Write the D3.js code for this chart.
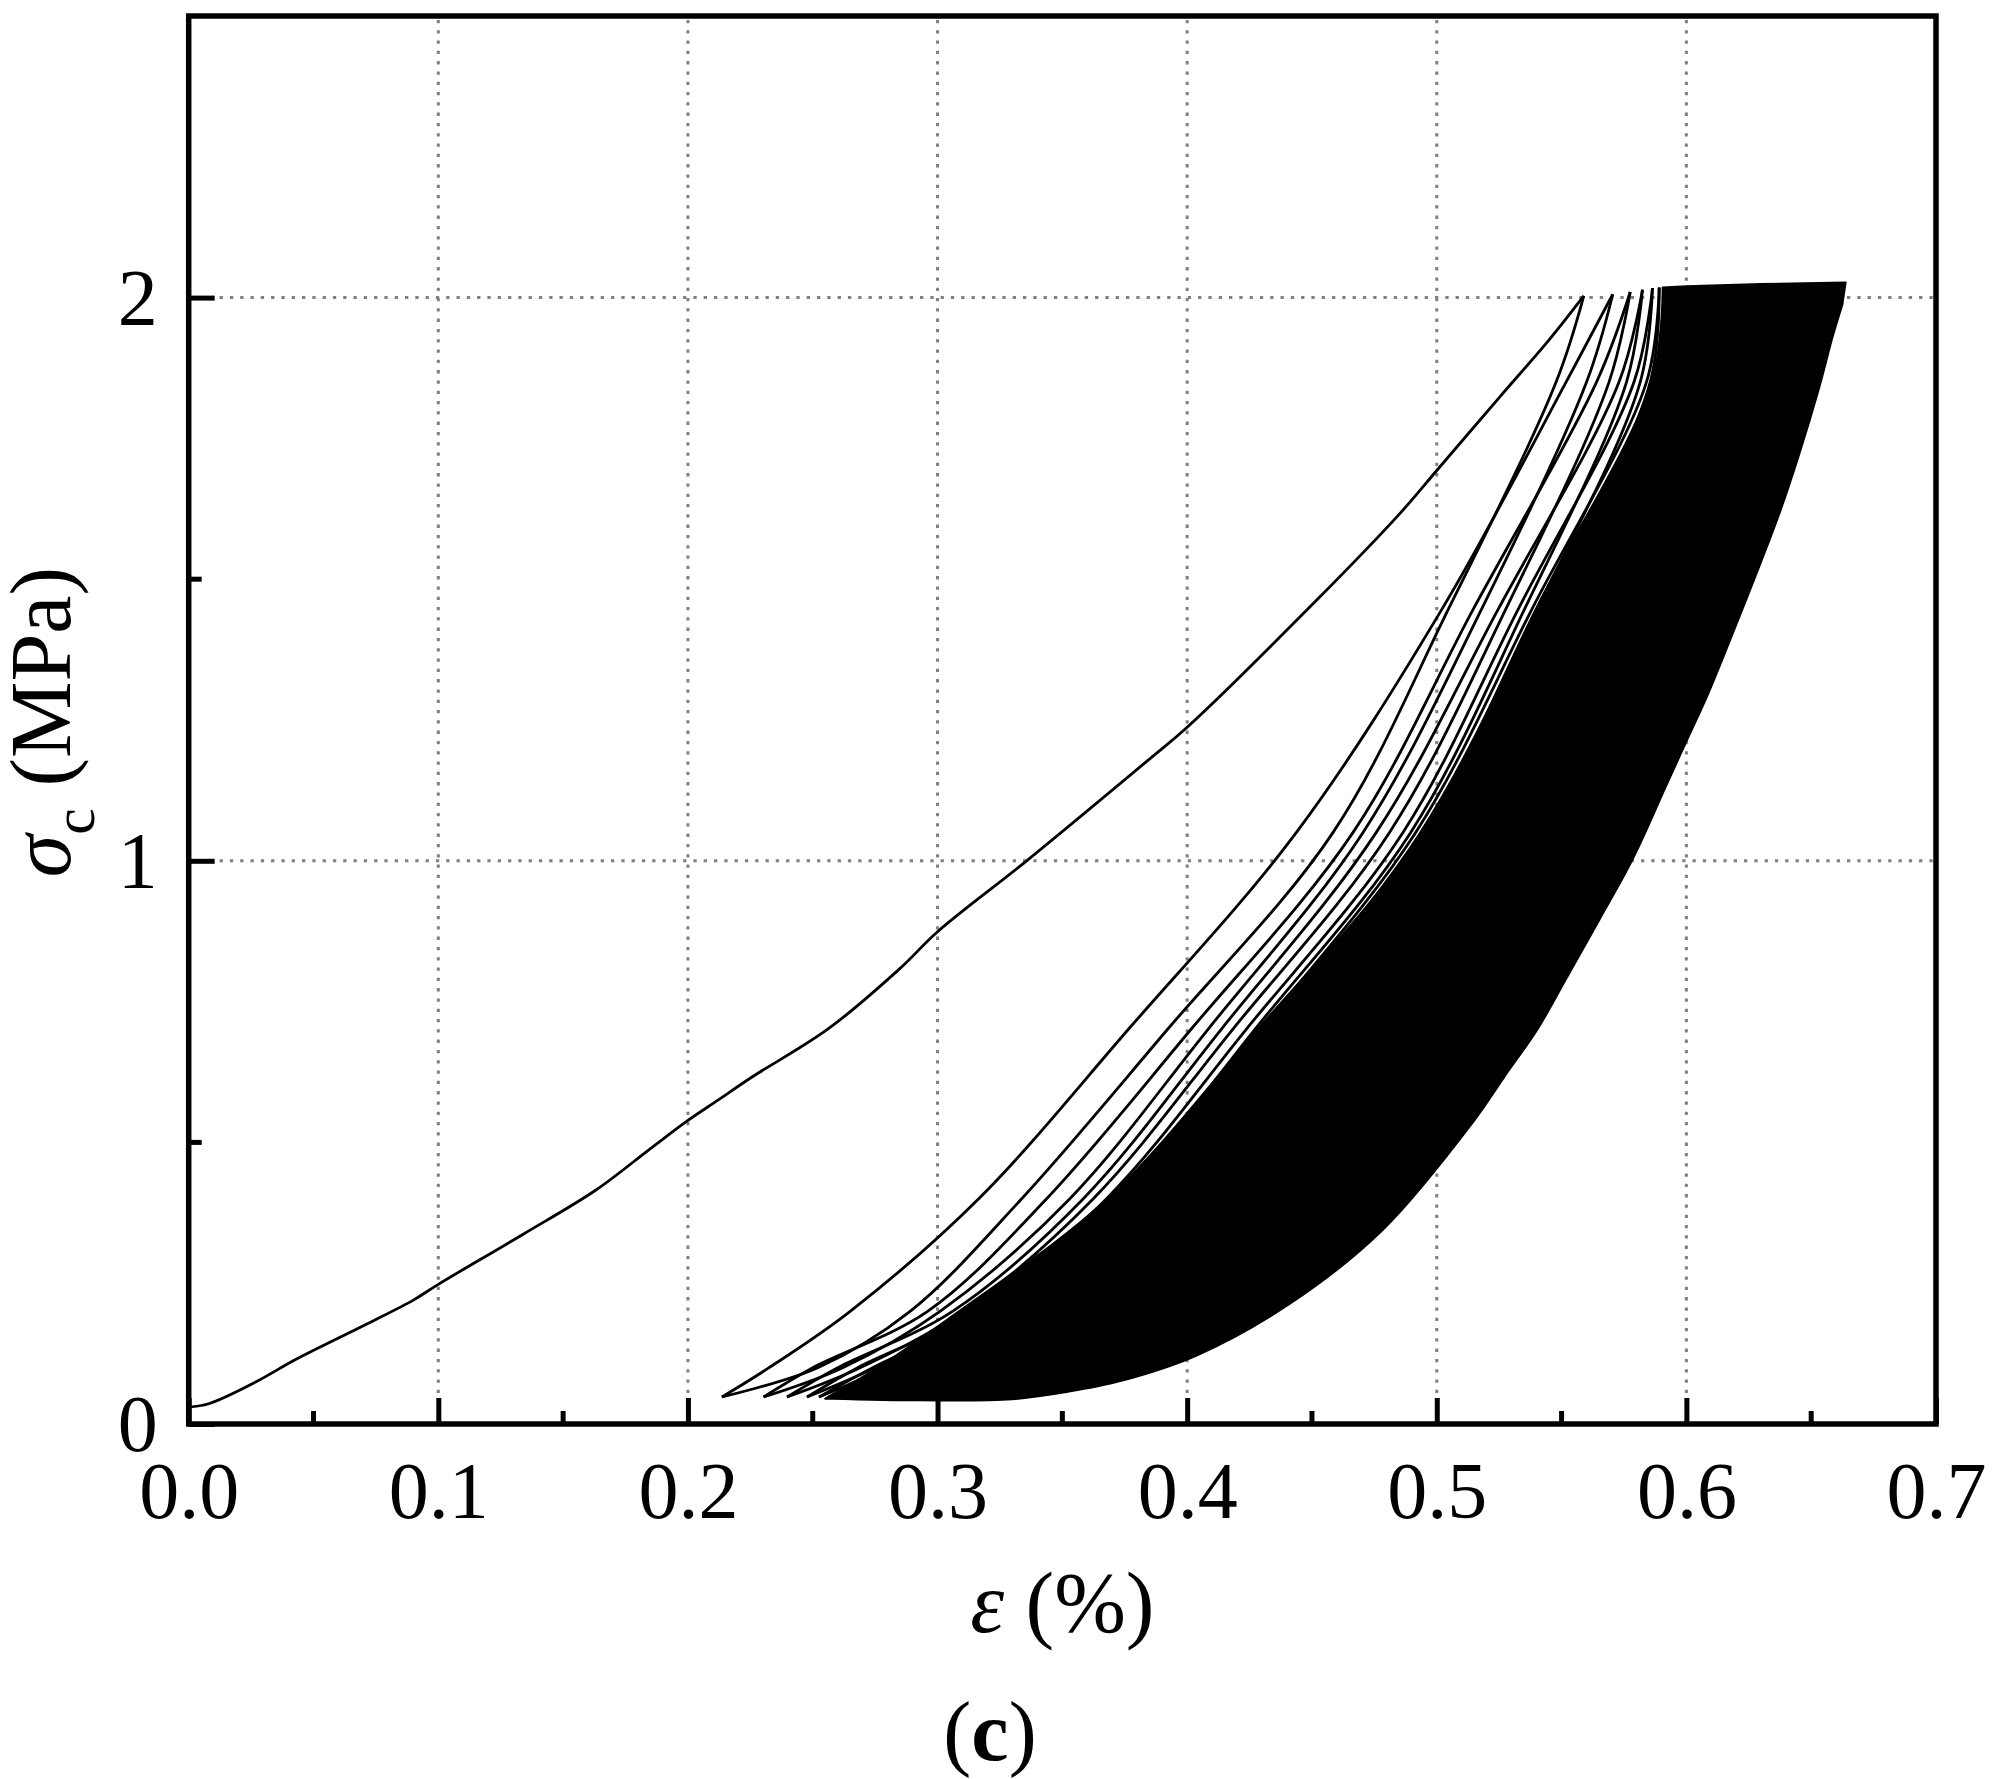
<!DOCTYPE html>
<html>
<head>
<meta charset="utf-8">
<script src="https://d3js.org/d3.v7.min.js"></script>
<style>
  body { margin: 0; background: #fff; }
  text { font-family: "Liberation Serif", "Times New Roman", serif; fill: #000; }
</style>
</head>
<body>
<script>
// axis ticks
const xTicks = [0, 0.1, 0.2, 0.3, 0.4, 0.5, 0.6, 0.7];
const xMinor = [0.05, 0.15, 0.25, 0.35, 0.45, 0.55, 0.65];
const yTicks = [0, 1, 2];
const yMinor = [0.5, 1.5];
const xGrid = [0.1, 0.2, 0.3, 0.4, 0.5, 0.6];
const yGrid = [1, 2];

// first loading curve, [strain %, stress MPa]
const firstLoading = [
  [0, 0.03], [0.008, 0.036], [0.027, 0.075], [0.043, 0.115], [0.072, 0.179],
  [0.09, 0.22], [0.1, 0.248], [0.134, 0.337], [0.163, 0.415], [0.185, 0.489],
  [0.2, 0.539], [0.212, 0.575], [0.226, 0.617], [0.256, 0.701], [0.285, 0.809],
  [0.3, 0.874], [0.3357, 1.0], [0.385, 1.181], [0.4, 1.237], [0.4517, 1.462],
  [0.4851, 1.616], [0.5, 1.693], [0.5251, 1.823], [0.545, 1.925], [0.5589, 2.003]
];

// separate unloading / reloading branches of the first cycles
const branchLow = 0.048;                                // stress at the valley
const branchStress = [0.1, 0.2, 0.4, 0.7, 1.05, 1.45, 1.85];
const branchStart = [0.2136, 0.2136, 0.2303, 0.2303, 0.2397, 0.2397,
                     0.2477, 0.2477, 0.2525, 0.2525, 0.2565, 0.2565];
const branchPeak = [
  [0.5705, 2.006], [0.5589, 2.003], [0.5775, 2.010], [0.5705, 2.006],
  [0.5824, 2.014], [0.5775, 2.010], [0.5864, 2.017], [0.5824, 2.014],
  [0.5891, 2.018], [0.5864, 2.017], [0.5918, 2.019], [0.5891, 2.018]
];
const branchStrain = [
  [0.2325, 0.2650, 0.3165, 0.3763, 0.4437, 0.5025, 0.5518],
  [0.2520, 0.2890, 0.3337, 0.3920, 0.4584, 0.5050, 0.5478],
  [0.2500, 0.2960, 0.3437, 0.4014, 0.4664, 0.5150, 0.5640],
  [0.2620, 0.3010, 0.3530, 0.4082, 0.4704, 0.5183, 0.5600],
  [0.2600, 0.3060, 0.3584, 0.4135, 0.4757, 0.5250, 0.5730],
  [0.2690, 0.3100, 0.3624, 0.4181, 0.4810, 0.5280, 0.5690],
  [0.2680, 0.3140, 0.3677, 0.4235, 0.4864, 0.5330, 0.5790],
  [0.2750, 0.3170, 0.3717, 0.4270, 0.4895, 0.5355, 0.5760],
  [0.2740, 0.3190, 0.3745, 0.4295, 0.4915, 0.5385, 0.5840],
  [0.2790, 0.3205, 0.3765, 0.4315, 0.4935, 0.5405, 0.5815],
  [0.2780, 0.3220, 0.3780, 0.4330, 0.4950, 0.5425, 0.5875],
  [0.2820, 0.3235, 0.3795, 0.4345, 0.4965, 0.5440, 0.5855]
];

// outline of the dense bundle of later cycles
const denseLeft = [
  [0.255, 0.045], [0.276, 0.10], [0.3085, 0.20], [0.368, 0.40], [0.428, 0.70],
  [0.4944, 1.05], [0.540, 1.45], [0.586, 1.85], [0.5905, 2.018]
];
const denseTop = [[0.600, 2.020], [0.630, 2.024], [0.6638, 2.027]];
const denseRight = [
  [0.6625, 1.988], [0.6585, 1.929], [0.6532, 1.840], [0.6452, 1.722],
  [0.6372, 1.616], [0.6158, 1.373], [0.6078, 1.287], [0.5998, 1.210],
  [0.5918, 1.132], [0.5785, 1.003], [0.5651, 0.895], [0.5518, 0.790],
  [0.5405, 0.702], [0.5270, 0.616], [0.5152, 0.540], [0.4781, 0.3435],
  [0.441, 0.213], [0.404, 0.122], [0.374, 0.077], [0.352, 0.057],
  [0.330, 0.044], [0.293, 0.042], [0.257, 0.045]
];

var width = 1993, height = 1779;
var plotLeft = 188.7, plotRight = 1936, plotTop = 16, plotBottom = 1424;

var svg = d3.select("body").append("svg")
  .attr("width", width)
  .attr("height", height)
  .style("display", "block");

var x = d3.scaleLinear().domain([0, 0.7]).range([plotLeft, plotRight]);
var y = d3.scaleLinear().domain([0, 2.5]).range([plotBottom, plotTop]);

// grid
svg.append("g").selectAll("line").data(xGrid).enter().append("line")
  .attr("x1", d => x(d)).attr("x2", d => x(d))
  .attr("y1", plotBottom).attr("y2", plotTop)
  .attr("stroke", "#808080").attr("stroke-width", 3)
  .attr("stroke-dasharray", "3.3,7");
svg.append("g").selectAll("line").data(yGrid).enter().append("line")
  .attr("y1", d => y(d)).attr("y2", d => y(d))
  .attr("x1", plotLeft).attr("x2", plotRight)
  .attr("stroke", "#808080").attr("stroke-width", 3)
  .attr("stroke-dasharray", "3.3,7");

var line = d3.line()
  .x(d => x(d[0])).y(d => y(d[1]))
  .curve(d3.curveCatmullRom.alpha(0.5));
var straight = d3.line().x(d => x(d[0])).y(d => y(d[1]));

// dense bundle: smooth sides, straight top
var outlinePath = line(denseLeft) +
  straight(denseTop).replace(/^M/, "L") +
  line(denseRight).replace(/^M/, "L") + "Z";
svg.append("path")
  .attr("d", outlinePath)
  .attr("fill", "#000")
  .attr("stroke", "#000")
  .attr("stroke-width", 2)
  .attr("stroke-linejoin", "round");

// branches
var branches = branchStrain.map(function(row, i) {
  var pts = [[branchStart[i], branchLow]];
  row.forEach(function(e, j) { pts.push([e, branchStress[j]]); });
  pts.push(branchPeak[i]);
  return pts;
});
svg.append("g").selectAll("path").data(branches).enter().append("path")
  .attr("d", line)
  .attr("fill", "none")
  .attr("stroke", "#000")
  .attr("stroke-width", 2.8);

svg.append("path")
  .attr("d", line(firstLoading))
  .attr("fill", "none")
  .attr("stroke", "#000")
  .attr("stroke-width", 2.8);

// frame
svg.append("rect")
  .attr("x", plotLeft).attr("y", plotTop)
  .attr("width", plotRight - plotLeft).attr("height", plotBottom - plotTop)
  .attr("fill", "none").attr("stroke", "#000").attr("stroke-width", 5.5);

// ticks, pointing inward
var xAxis = d3.axisBottom(x).tickValues(xTicks).tickSize(-26).tickPadding(0)
  .tickFormat(d3.format(".1f"));
var gx = svg.append("g").attr("transform", "translate(0," + plotBottom + ")").call(xAxis);
gx.select(".domain").remove();
gx.selectAll("line").attr("stroke", "#000").attr("stroke-width", 5);
gx.selectAll("text").attr("y", 94).attr("dy", null)
  .style("font-size", "80px").attr("font-family", null);

svg.append("g").selectAll("line").data(xMinor).enter().append("line")
  .attr("x1", d => x(d)).attr("x2", d => x(d))
  .attr("y1", plotBottom).attr("y2", plotBottom - 13)
  .attr("stroke", "#000").attr("stroke-width", 5);

var yAxis = d3.axisLeft(y).tickValues(yTicks).tickSize(-26).tickPadding(0)
  .tickFormat(d3.format("d"));
var gy = svg.append("g").attr("transform", "translate(" + plotLeft + ",0)").call(yAxis);
gy.select(".domain").remove();
gy.selectAll("line").attr("stroke", "#000").attr("stroke-width", 5);
gy.selectAll("text").attr("x", -31).attr("dy", "0.33em")
  .style("font-size", "80px").attr("font-family", null);

svg.append("g").selectAll("line").data(yMinor).enter().append("line")
  .attr("y1", d => y(d)).attr("y2", d => y(d))
  .attr("x1", plotLeft).attr("x2", plotLeft + 13)
  .attr("stroke", "#000").attr("stroke-width", 5);

// axis titles
var yt = svg.append("text")
  .attr("transform", "translate(70," + ((plotTop + plotBottom) / 2 + 2) + ") rotate(-90)")
  .attr("text-anchor", "middle")
  .style("font-size", "86px");
yt.append("tspan").style("font-style", "italic").text("σ");
yt.append("tspan").attr("dy", 24).style("font-size", "60px").text("c");
yt.append("tspan").attr("dy", -24).text(" (MPa)");

var xt = svg.append("text")
  .attr("x", (plotLeft + plotRight) / 2).attr("y", 1632)
  .attr("text-anchor", "middle")
  .style("font-size", "86px");
xt.append("tspan").style("font-style", "italic").text("ε");
xt.append("tspan").text(" (%)");

var cap = svg.append("text")
  .attr("x", 990).attr("y", 1760)
  .attr("text-anchor", "middle")
  .style("font-size", "84px");
cap.append("tspan").text("(");
cap.append("tspan").style("font-weight", "bold").text("c");
cap.append("tspan").text(")");
</script>
</body>
</html>
